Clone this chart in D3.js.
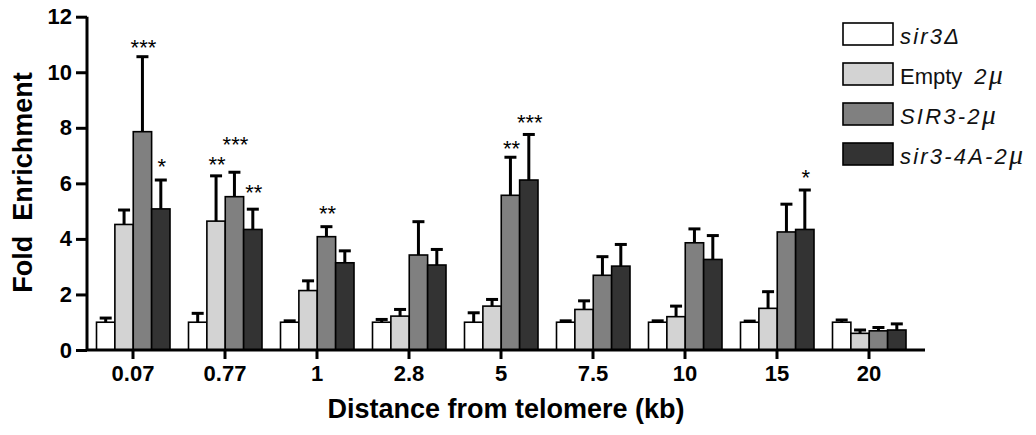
<!DOCTYPE html>
<html>
<head>
<meta charset="utf-8">
<script src="https://cdn.jsdelivr.net/npm/d3@7"></script>
<style>
  body { margin: 0; background: #fff; }
  svg { display: block; font-family: "Liberation Sans", Arial, Helvetica, sans-serif; }
</style>
</head>
<body>
<svg id="chart" width="1036" height="435"></svg>
<script>
// Distance from telomere (kb)
const distances = ["0.07", "0.77", "1", "2.8", "5", "7.5", "10", "15", "20"];

// Mean fold enrichment and SEM per strain
const sir3Delta      = [1.00, 1.00, 1.00, 1.00, 1.00, 1.00, 1.00, 1.00, 1.00];
const sir3DeltaErr   = [0.15, 0.32, 0.05, 0.10, 0.34, 0.05, 0.05, 0.04, 0.08];
const empty2u        = [4.52, 4.64, 2.14, 1.22, 1.58, 1.46, 1.20, 1.50, 0.60];
const empty2uErr     = [0.52, 1.63, 0.35, 0.24, 0.24, 0.31, 0.38, 0.60, 0.12];
const sir3_2u        = [7.86, 5.52, 4.08, 3.42, 5.57, 2.69, 3.86, 4.25, 0.69];
const sir3_2uErr     = [2.70, 0.88, 0.36, 1.20, 1.37, 0.67, 0.50, 1.00, 0.12];
const sir3_4A_2u     = [5.08, 4.34, 3.14, 3.06, 6.12, 3.02, 3.26, 4.34, 0.72];
const sir3_4A_2uErr  = [1.04, 0.73, 0.43, 0.56, 1.64, 0.78, 0.86, 1.42, 0.22];

const yTicks = [0, 2, 4, 6, 8, 10, 12];

// Significance marks: distance, strain index, stars, height (fold enrichment units)
const sigDistance = ["0.07", "0.07", "0.77", "0.77", "0.77", "1", "5", "5", "15"];
const sigSeries   = [2, 3, 1, 2, 3, 2, 2, 3, 3];
const sigStars    = ["***", "*", "**", "***", "**", "**", "**", "***", "*"];
const sigLevel    = [11.04, 6.78, 6.84, 7.56, 5.82, 5.06, 7.42, 8.34, 6.38];

const seriesKeys   = ["sir3Delta", "empty2u", "sir3_2u", "sir3_4A_2u"];
const seriesColors = ["#ffffff", "#d3d3d3", "#808080", "#333333"];
// legend labels as [text, italic] runs
const seriesLabels = [
  [["sir3Δ", true]],
  [["Empty", false], ["2μ", true]],
  [["SIR3-2μ", true]],
  [["sir3-4A-2μ", true]]
];

const means = [sir3Delta, empty2u, sir3_2u, sir3_4A_2u];
const errs  = [sir3DeltaErr, empty2uErr, sir3_2uErr, sir3_4A_2uErr];

const rows = [];
distances.forEach((d, i) => {
  seriesKeys.forEach((k, s) => {
    rows.push({ d, s, key: k, v: means[s][i], e: errs[s][i] });
  });
});

const svg = d3.select("#chart");

const x0 = d3.scaleBand().domain(distances).range([87, 915]).padding(0);
const x1 = d3.scaleBand().domain(seriesKeys).range([9.5, 83]).padding(0);
const y  = d3.scaleLinear().domain([0, 12]).range([350, 16.7]);

// bars
const bars = svg.append("g");
bars.selectAll("rect").data(rows).join("rect")
  .attr("x", r => x0(r.d) + x1(r.key))
  .attr("y", r => y(r.v))
  .attr("width", x1.bandwidth())
  .attr("height", r => y(0) - y(r.v))
  .attr("fill", r => seriesColors[r.s])
  .attr("stroke", "#000")
  .attr("stroke-width", 1.6);

// error bars (upper only)
const eb = svg.append("g").attr("stroke", "#000").attr("stroke-width", 3);
eb.selectAll("line.v").data(rows).join("line").attr("class", "v")
  .attr("x1", r => x0(r.d) + x1(r.key) + x1.bandwidth() / 2)
  .attr("x2", r => x0(r.d) + x1(r.key) + x1.bandwidth() / 2)
  .attr("y1", r => y(r.v))
  .attr("y2", r => y(r.v + r.e));
eb.selectAll("line.c").data(rows).join("line").attr("class", "c")
  .attr("x1", r => x0(r.d) + x1(r.key) + x1.bandwidth() / 2 - 6)
  .attr("x2", r => x0(r.d) + x1(r.key) + x1.bandwidth() / 2 + 6)
  .attr("y1", r => y(r.v + r.e))
  .attr("y2", r => y(r.v + r.e));

// significance stars
svg.append("g").selectAll("text").data(sigStars).join("text")
  .attr("x", (t, i) => x0(sigDistance[i]) + x1(seriesKeys[sigSeries[i]]) + x1.bandwidth() / 2 + 1)
  .attr("y", (t, i) => y(sigLevel[i]) + 12)
  .attr("text-anchor", "middle")
  .attr("font-size", 22)
  .attr("fill", "#000")
  .text(t => t);

// y axis
const yAxis = svg.append("g").attr("transform", "translate(87,0)")
  .call(d3.axisLeft(y).tickValues(yTicks).tickSize(11).tickPadding(4).tickFormat(d3.format("d")));
yAxis.select(".domain").attr("d", `M0,${y(12)}V${y(0)}`).attr("stroke-width", 3);
yAxis.selectAll(".tick line").attr("stroke-width", 3);
yAxis.selectAll(".tick text").attr("font-size", 22).attr("font-weight", "bold")
  .attr("font-family", "Liberation Sans, Arial, sans-serif").attr("fill", "#000");

// x axis
const xAxis = svg.append("g").attr("transform", `translate(0,${y(0)})`)
  .call(d3.axisBottom(x0).tickSize(9).tickPadding(6));
xAxis.select(".domain").attr("d", "M87,0H925").attr("stroke-width", 3);
xAxis.selectAll(".tick line").attr("stroke-width", 3);
xAxis.selectAll(".tick text").attr("font-size", 22).attr("font-weight", "bold")
  .attr("font-family", "Liberation Sans, Arial, sans-serif").attr("fill", "#000");

// axis titles
svg.append("text")
  .attr("x", 506).attr("y", 418)
  .attr("text-anchor", "middle")
  .attr("font-size", 27).attr("font-weight", "bold")
  .text("Distance from telomere (kb)");

svg.append("text")
  .attr("transform", "translate(32,182.5) rotate(-90)")
  .attr("text-anchor", "middle")
  .attr("font-size", 27).attr("font-weight", "bold")
  .attr("xml:space", "preserve")
  .style("white-space", "pre")
  .text("Fold  Enrichment");

// legend
const legend = svg.append("g").attr("transform", "translate(843,23)");
const item = legend.selectAll("g").data(seriesKeys).join("g")
  .attr("transform", (k, i) => `translate(0,${i * 40})`);
item.append("rect")
  .attr("width", 50).attr("height", 22)
  .attr("fill", (k, i) => seriesColors[i])
  .attr("stroke", "#000").attr("stroke-width", 1.6);
item.append("text")
  .attr("x", 57).attr("y", 20.5)
  .attr("font-size", 22).attr("fill", "#111")
  .each(function (k, i) {
    const t = d3.select(this);
    seriesLabels[i].forEach(([str, it], j) => {
      // split off the micro sign so it can be set in a serif italic
      str.split(/(μ)/).filter(p => p.length).forEach((p, m) => {
        const ts = t.append("tspan").text(p);
        if (j > 0 && m === 0) ts.attr("dx", 12);
        if (it) ts.attr("font-style", "italic").attr("letter-spacing", 2.2);
        if (p === "μ") ts.attr("font-family", "Liberation Serif, Times New Roman, serif").attr("font-size", 28).attr("letter-spacing", 0);
      });
    });
  });
</script>
</body>
</html>
